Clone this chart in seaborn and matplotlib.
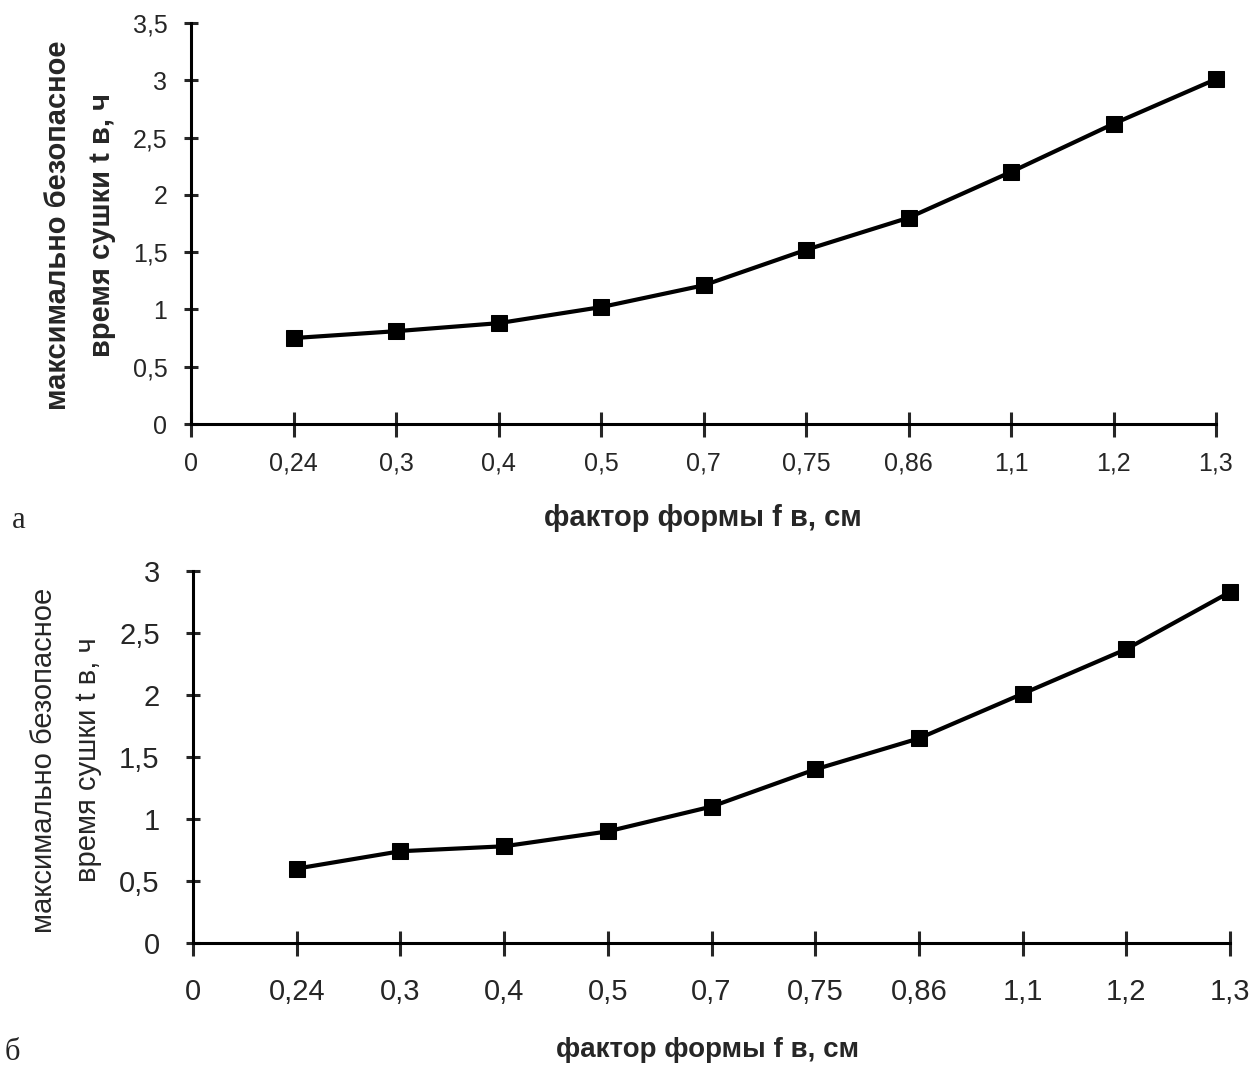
import numpy as np
import pandas as pd
import matplotlib
matplotlib.use("Agg")
import matplotlib.pyplot as plt
import seaborn as sns

# tick labels on the x axis (first one "0" sits on the y axis)
x_labels = ["0", "0,24", "0,3", "0,4", "0,5", "0,7", "0,75", "0,86", "1,1", "1,2", "1,3"]

# а) top chart
time_a = [0.75, 0.81, 0.88, 1.02, 1.21, 1.52, 1.80, 2.20, 2.62, 3.01]
yticks_a = [0, 0.5, 1, 1.5, 2, 2.5, 3, 3.5]

# б) bottom chart
time_b = [0.60, 0.74, 0.78, 0.90, 1.10, 1.40, 1.65, 2.01, 2.37, 2.83]
yticks_b = [0, 0.5, 1, 1.5, 2, 2.5, 3]

sns.set_style("ticks")
plt.rcParams['font.family'] = ['Liberation Sans', 'DejaVu Sans']

W, H = 1253, 1066
fig = plt.figure(figsize=(W / 100, H / 100), dpi=100)


def px_axes(left, top, right, bottom):
    return fig.add_axes([left / W, 1 - bottom / H, (right - left) / W, (bottom - top) / H])


def fmt(v):
    return ("%g" % v).replace(".", ",")


def draw(ax, values, yticks, ymax, tick_fs, ypad, xpad):
    df = pd.DataFrame({"pos": np.arange(1, len(values) + 1), "t": values})
    sns.lineplot(data=df, x="pos", y="t", ax=ax, color="black", linewidth=3,
                 marker="s", markersize=12, markeredgecolor="black")
    ax.set_xlim(0, len(x_labels) - 1)
    ax.set_ylim(0, ymax)
    ax.set_xticks(range(len(x_labels)))
    ax.set_xticklabels(x_labels)
    ax.set_yticks(yticks)
    ax.set_yticklabels([fmt(v) for v in yticks])
    sns.despine(ax=ax)
    for s in ["left", "bottom"]:
        ax.spines[s].set_linewidth(2.2)
        ax.spines[s].set_color("black")
    ax.tick_params(axis="y", direction="inout", length=10, width=2.2, labelsize=tick_fs, pad=ypad)
    ax.tick_params(axis="x", direction="inout", length=18, width=2.2, labelsize=tick_fs, pad=xpad)
    ax.set_xlabel("")
    ax.set_ylabel("")
    for line in ax.lines:
        line.set_clip_on(False)


ax1 = px_axes(191, 23, 1216, 424)
draw(ax1, time_a, yticks_a, 3.5, 18, 12, 11)
fig.text(80 / W, 1 - 225 / H, "максимально безопасное\nвремя сушки t в, ч", rotation=90,
         ha="center", va="center", fontsize=21, fontweight="bold", linespacing=1.75)
fig.text(703 / W, 1 - 518 / H, "фактор формы f в, см", ha="center", va="center",
         fontsize=21, fontweight="bold")
fig.text(12 / W, 1 - 520 / H, "а", ha="left", va="center", fontsize=22,
         family="Liberation Serif")

ax2 = px_axes(193, 571, 1230, 943)
draw(ax2, time_b, yticks_b, 3, 21, 19, 16)
fig.text(66 / W, 1 - 760 / H, "максимально безопасное\nвремя сушки t в, ч", rotation=90,
         ha="center", va="center", fontsize=21, linespacing=1.7)
fig.text(708 / W, 1 - 1050 / H, "фактор формы f в, см", ha="center", va="center",
         fontsize=20, fontweight="bold")
fig.text(5 / W, 1 - 1052 / H, "б", ha="left", va="center", fontsize=22,
         family="Liberation Serif")

fig.savefig("out.png", dpi=100)
